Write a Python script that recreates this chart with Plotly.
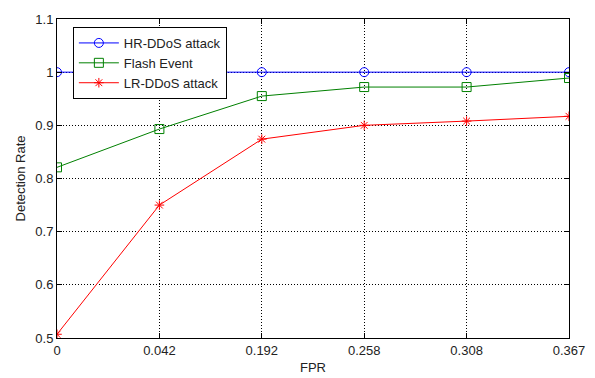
import plotly.graph_objects as go

fpr_labels = ["0", "0.042", "0.192", "0.258", "0.308", "0.367"]
hr_ddos = [1.0, 1.0, 1.0, 1.0, 1.0, 1.0]
flash_event = [0.821, 0.893, 0.955, 0.972, 0.972, 0.989]
lr_ddos = [0.507, 0.750, 0.874, 0.900, 0.908, 0.917]
y_ticks = [0.5, 0.6, 0.7, 0.8, 0.9, 1.0, 1.1]
y_tick_text = ["0.5", "0.6", "0.7", "0.8", "0.9", "1", "1.1"]

x_idx = list(range(len(fpr_labels)))

fig = go.Figure()
fig.add_trace(go.Scatter(
    x=x_idx, y=hr_ddos, name="HR-DDoS attack", mode="lines+markers",
    line=dict(color="#0000ff", width=1),
    marker=dict(symbol="circle-open", size=9, color="#0000ff", line=dict(width=1)),
))
fig.add_trace(go.Scatter(
    x=x_idx, y=flash_event, name="Flash Event", mode="lines+markers",
    line=dict(color="#008000", width=1),
    marker=dict(symbol="square-open", size=9, color="#008000", line=dict(width=1)),
))
fig.add_trace(go.Scatter(
    x=x_idx, y=lr_ddos, name="LR-DDoS attack", mode="lines+markers",
    line=dict(color="#ff0000", width=1),
    marker=dict(symbol="asterisk-open", size=8, color="#ff0000", line=dict(width=1, color="#ff0000")),
))

FONT = "Liberation Sans, Arial"
axis_common = dict(
    showline=True, linecolor="black", linewidth=1, mirror="ticks",
    ticks="inside", ticklen=5, tickcolor="black",
    showgrid=True, gridcolor="black", griddash="1px,2px", gridwidth=1,
    zeroline=False, automargin=False,
    tickfont=dict(family=FONT, size=13, color="#222"),
    title_font=dict(family=FONT, size=13, color="#222"),
)

fig.update_xaxes(
    range=[0, len(fpr_labels) - 1], tickmode="array", tickvals=x_idx, ticktext=fpr_labels,
    title_text="FPR", title_standoff=6, **axis_common,
)
fig.update_yaxes(
    range=[0.5, 1.1], tickmode="array", tickvals=y_ticks, ticktext=y_tick_text,
    title_text="Detection Rate", title_standoff=6, ticklabelstandoff=0, **axis_common,
)

fig.update_layout(
    width=587, height=370,
    margin=dict(l=49, r=26, t=11, b=40),
    paper_bgcolor="white", plot_bgcolor="white",
    font=dict(family=FONT, size=13, color="#222"),
    showlegend=True,
    legend=dict(
        x=0.031, y=0.975, xanchor="left", yanchor="top",
        bgcolor="white", bordercolor="black", borderwidth=1,
        font=dict(family=FONT, size=13, color="#222"),
        itemwidth=40, tracegroupgap=0,
    ),
)

fig.write_html("out.html")
